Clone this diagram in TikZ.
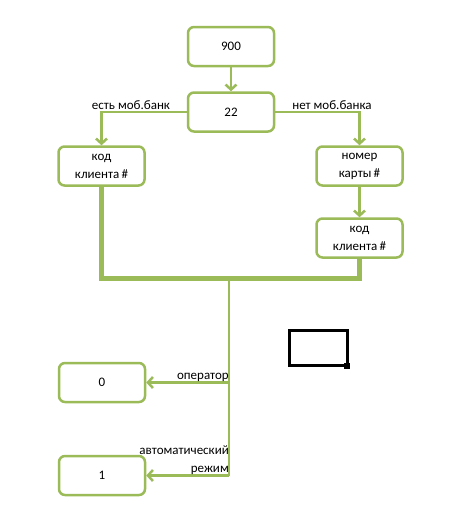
\documentclass[tikz,border=0pt]{standalone}
\usepackage{fontspec}
\setmainfont{Carlito}
\usetikzlibrary{arrows.meta}
\definecolor{olivegreen}{HTML}{9BBB59}
\begin{document}
\begin{tikzpicture}[x=1pt,y=-1pt,
  box/.style={draw=olivegreen, line width=2.5pt, rounded corners=6pt, minimum width=86pt, minimum height=39pt, align=center, inner sep=0pt, font=\fontsize{13}{18}\selectfont, text=black},
  link/.style={draw=olivegreen, line width=2.5pt, -{Straight Barb[length=5pt,width=11pt,line width=2.5pt]}},
  plain/.style={draw=olivegreen, line width=2.5pt},
  heavy/.style={draw=olivegreen, line width=5pt},
  heavyshadow/.style={draw=black!15, line width=5pt},
  lbl/.style={font=\fontsize{13}{18}\selectfont, inner sep=1pt, text=black, align=right}]
\useasboundingbox (0,0) rectangle (475,514);
\node[box] (n900) at (231,46.5) {900};
\node[box] (n22) at (231,112) {22};
\node[box] (k1) at (101.5,166) {код\\клиента\,\#};
\node[box] (nk) at (359.5,166) {номер\\карты\,\#};
\node[box] (k2) at (359.5,238) {код\\клиента\,\#};
\node[box] (z0) at (102,382.5) {0};
\node[box] (z1) at (102,475.5) {1};
\coordinate (jn) at (229,278);
\coordinate (jl) at (101.5,112);
\coordinate (jr) at (359.5,112);
\coordinate (j0) at (229,382.5);
\coordinate (j1) at (229,475.5);
% arrows
\draw[link] (n900) -- (n22);
\draw[link] (n22.west) -- (jl) -- (k1.north);
\draw[link] (n22.east) -- (jr) -- (nk.north);
\draw[link] (nk) -- (k2);
\node[lbl, anchor=south] (l1) at (131,111) {есть моб.банк};
\node[lbl, anchor=south] (l2) at (332,111) {нет моб.банка};
% heavy merge
\begin{scope}[shift={(1.5,1.5)}]
\draw[heavyshadow] (k1.south) -- (k1.south |- jn) -- (k2.south |- jn) -- (k2.south);
\end{scope}
\draw[heavy] (k1.south) -- (k1.south |- jn) -- (k2.south |- jn) -- (k2.south);
\draw[plain] (jn) -- (j1);
\draw[link] (j0) -- (z0.east);
\draw[link] (j1) -- (z1.east);
\node[lbl, anchor=south east] (l3) at (230,383) {оператор};
\node[lbl, anchor=south east] (l4) at (230,476) {автоматический\\режим};
% selection rectangle
\draw[line width=3pt] (289.5,330.5) rectangle (347.5,365.5);
\fill (344,363) rectangle (350,369);
\end{tikzpicture}
\end{document}
